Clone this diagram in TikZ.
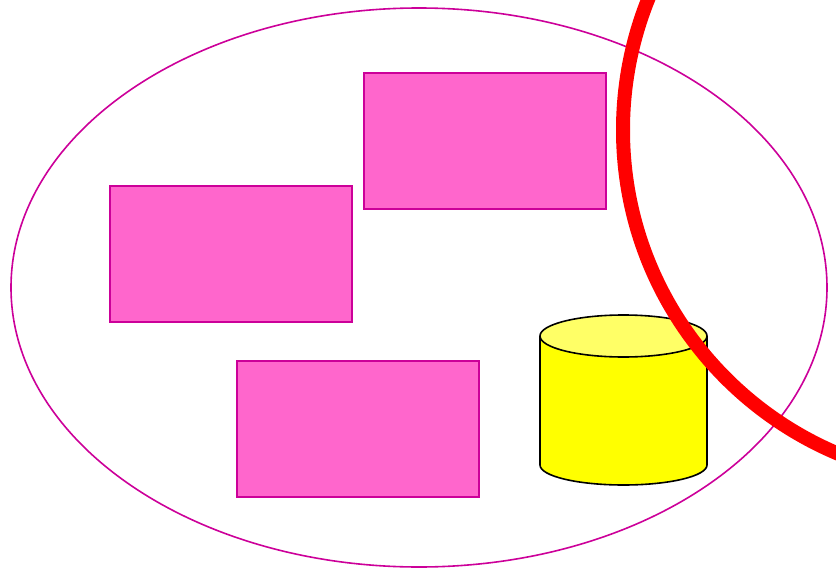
\documentclass[tikz,border=0pt]{standalone}
\usetikzlibrary{shapes.geometric}
\definecolor{mag}{RGB}{204,0,153}
\definecolor{pinkfill}{RGB}{255,102,204}
\definecolor{cyltop}{RGB}{255,255,102}
\definecolor{cylbody}{RGB}{255,255,0}
\definecolor{redline}{RGB}{255,0,0}
\tikzset{
  pinkbox/.style={draw=mag, fill=pinkfill, line width=1.6pt, rectangle, inner sep=0pt, minimum width=242pt, minimum height=136pt},
  cylline/.style={draw=black, line width=1.6pt},
}
\begin{document}
\begin{tikzpicture}[x=1pt,y=-1pt]
\useasboundingbox (0,0) rectangle (836,570);
\clip (0,0) rectangle (836,570);
\node[ellipse, draw=mag, line width=1.6pt, inner sep=0pt, minimum width=816pt, minimum height=559pt] (outer) at (419,287.5) {};
\node[pinkbox] (boxA) at (485,141) {};
\node[pinkbox] (boxB) at (231,254) {};
\node[pinkbox] (boxC) at (358,429) {};
% cylinder
\coordinate (cyl) at (623.5,336);
\fill[cylbody] (540,336) -- (540,465) arc[start angle=180, end angle=0, x radius=83.5, y radius=20] -- (707,336) -- cycle;
\draw[cylline] (540,336) -- (540,465) arc[start angle=180, end angle=0, x radius=83.5, y radius=20] -- (707,336);
\draw[cylline, fill=cyltop] (cyl) ellipse[x radius=83.5, y radius=21];
% red arc
\coordinate (rc) at (974,130);
\draw[redline, line width=14pt] (rc) circle[radius=351];
\end{tikzpicture}
\end{document}
